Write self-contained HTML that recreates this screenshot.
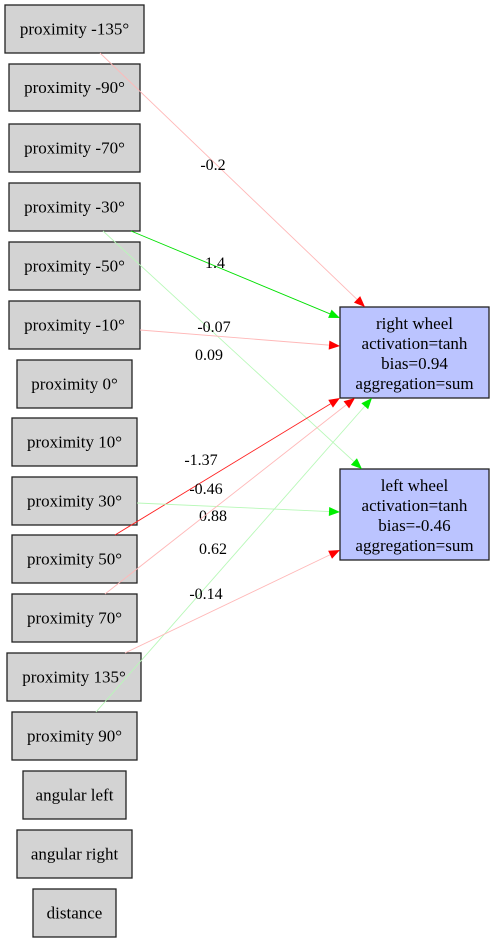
<!DOCTYPE html>
<html><head><meta charset="utf-8">
<style>
html,body{margin:0;padding:0;background:#fff;}
svg{display:block;font-family:"Liberation Serif",serif;}
</style></head>
<body>
<svg id="g" width="495" height="943" viewBox="0 0 495 943"></svg>
<script>
const inputNames = ["proximity -135°","proximity -90°","proximity -70°","proximity -30°","proximity -50°","proximity -10°","proximity 0°","proximity 10°","proximity 30°","proximity 50°","proximity 70°","proximity 135°","proximity 90°","angular left","angular right","distance"];
const edgeFrom = ["proximity -135°","proximity -30°","proximity -50°","proximity -10°","proximity 50°","proximity 30°","proximity 70°","proximity 90°","proximity 135°"];
const edgeTo = ["right","right","left","right","right","left","right","right","left"];
const edgeWeights = [-0.2,1.4,0.09,-0.07,-1.37,0.88,-0.46,0.62,-0.14];
const outputNames = ["right wheel","left wheel"];
const outputBias = [0.94,-0.46];

const NS="http://www.w3.org/2000/svg";
const svg=document.getElementById('g');
function mk(t,a,p){const e=document.createElementNS(NS,t);for(const k in a)e.setAttribute(k,a[k]);(p||svg).appendChild(e);return e;}

const boxes=[[5,5,144,53],[9,64,140,111],[9,124,140,172],[9,183,140,231],[9,242,140,290],[9,301,140,349],[17,360,132,408],[12,418,137,466],[12,477,137,525],[12,535,137,583],[12,594,137,642],[7,653,141,701],[12,712,137,760],[23,771,126,819],[17,830,132,878],[33,889,116,937]];
const outBoxes={right:[340,307,489,398],left:[340,469,489,560]};
const starts=[[100,53],[131,231],[103,231],[140,330],[115,535],[137,503],[105,594],[96,712],[125,653]];
const ends=[[365,307],[340,318],[362,469],[340,346],[340,398],[340,512],[355,398],[372,398],[340,550]];
const labelPos=[[213,170],[215,268],[209,360],[214,332],[201,465],[213,521],[206,494],[213,554],[206,599]];

inputNames.forEach((n,i)=>{
  const [x1,y1,x2,y2]=boxes[i];
  const g=mk('g',{});
  
  
  mk('rect',{x:x1,y:y1,width:x2-x1,height:y2-y1,fill:'#d3d3d3',stroke:'#222','stroke-width':1.3},g);
  const t=mk('text',{x:(x1+x2)/2,y:(y1+y2)/2+5.5,'text-anchor':'middle','font-size':17},g);
  t.textContent=n;
});

outputNames.forEach((n,i)=>{
  const [x1,y1,x2,y2]=outBoxes[i===0?'right':'left'];
  const g=mk('g',{});
  
  
  mk('rect',{x:x1,y:y1,width:x2-x1,height:y2-y1,fill:'#bbc4ff',stroke:'#222','stroke-width':1.3},g);
  const lines=[n,'activation=tanh','bias='+outputBias[i],'aggregation=sum'];
  lines.forEach((s,k)=>{
    const t=mk('text',{x:(x1+x2)/2,y:y1+22+k*20,'text-anchor':'middle','font-size':17},g);
    t.textContent=s;
  });
});

const edgeLayer=mk('g',{});
edgeWeights.forEach((w,i)=>{
  const strong=Math.abs(w)>1;
  const col = w>=0 ? (strong?'#00e000':'#b8f8b8') : (strong?'#ff2020':'#ffb8b8');
  const head = w>=0 ? '#00ee00' : '#ff0000';
  const [x1,y1]=starts[i],[x2,y2]=ends[i];
  const dx=x2-x1,dy=y2-y1,L=Math.hypot(dx,dy),ux=dx/L,uy=dy/L;
  const bx=x2-ux*11,by=y2-uy*11;
  const ln=mk('line',{x1,y1,x2:bx,y2:by,stroke:col,'stroke-width':0.9},edgeLayer);
  
  
  const px=-uy*4.5,py=ux*4.5;
  const ah=mk('polygon',{points:`${x2},${y2} ${bx+px},${by+py} ${bx-px},${by-py}`,fill:head},edgeLayer);
  
  
  const t=mk('text',{x:labelPos[i][0],y:labelPos[i][1],'text-anchor':'middle','font-size':16,fill:'#000'},edgeLayer);
  t.textContent=String(w);
  
  
});
</script>
</body></html>
